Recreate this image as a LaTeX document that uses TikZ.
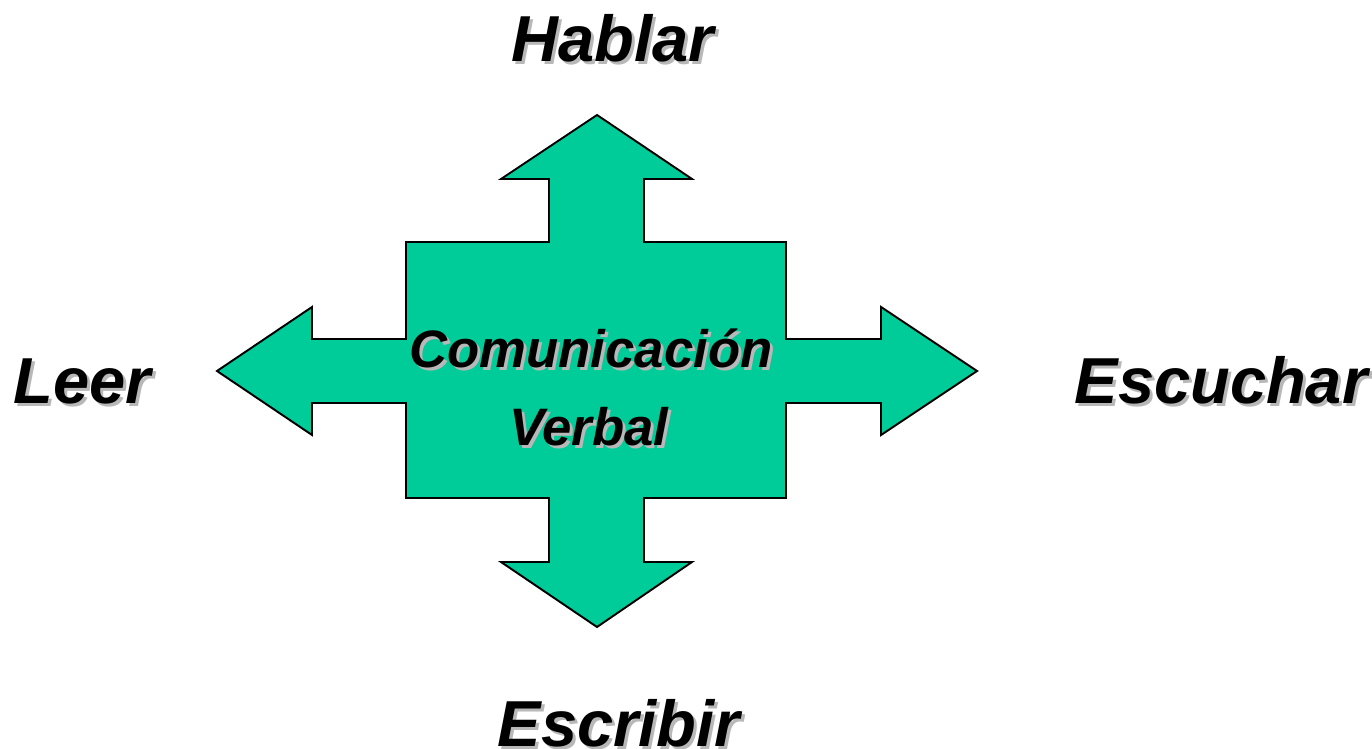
\documentclass[tikz,border=0pt]{standalone}
\usepackage{fontspec}
\setmainfont{Liberation Sans}
\usepackage{tikz}
\definecolor{verdecom}{HTML}{00CC99}
% Texto con sombra gris
\newcommand{\consombra}[1]{\rlap{\kern0.06cm\raisebox{-0.06cm}{\textcolor{black!28}{#1}}}#1}

\begin{document}
\begin{tikzpicture}[x=0.02cm,y=-0.02cm,
    etiqueta/.style={anchor=base,inner sep=0pt,font=\fontsize{37}{40}\selectfont\bfseries\itshape},
    centro/.style={anchor=base,inner sep=0pt,font=\fontsize{30}{34}\selectfont\bfseries\itshape}]
        \useasboundingbox (0,0) rectangle (1372,749);
        % Pintar la cruz de flechas
        \draw[fill=verdecom,line width=1.1pt,line join=miter] (597,115) -- (692,179) -- (644,179) -- (644,242) -- (786,242) -- (786,339)
            -- (881,339) -- (881,307) -- (977,371) -- (881,435) -- (881,403) -- (786,403) -- (786,498)
            -- (644,498) -- (644,562) -- (692,562) -- (597,627) -- (501,562) -- (549,562) -- (549,498)
            -- (406,498) -- (406,403) -- (312,403) -- (312,435) -- (217,371) -- (312,307) -- (312,339)
            -- (406,339) -- (406,242) -- (549,242) -- (549,179) -- (501,179) -- cycle;
        % Texto del centro
        \node[centro] (comunicacion) at (591,368) {\consombra{Comunicación}};
        \node[centro] (verbal) at (589,446) {\consombra{Verbal}};
        % Texto de las flechas
        \node[etiqueta] (hablar) at (613,62) {\consombra{Hablar}};
        \node[etiqueta] (leer) at (82,404) {\consombra{Leer}};
        \node[etiqueta] (escuchar) at (1221,404) {\consombra{Escuchar}};
        \node[etiqueta] (escribir) at (619,746) {\consombra{Escribir}};
    \end{tikzpicture}
\end{document}
